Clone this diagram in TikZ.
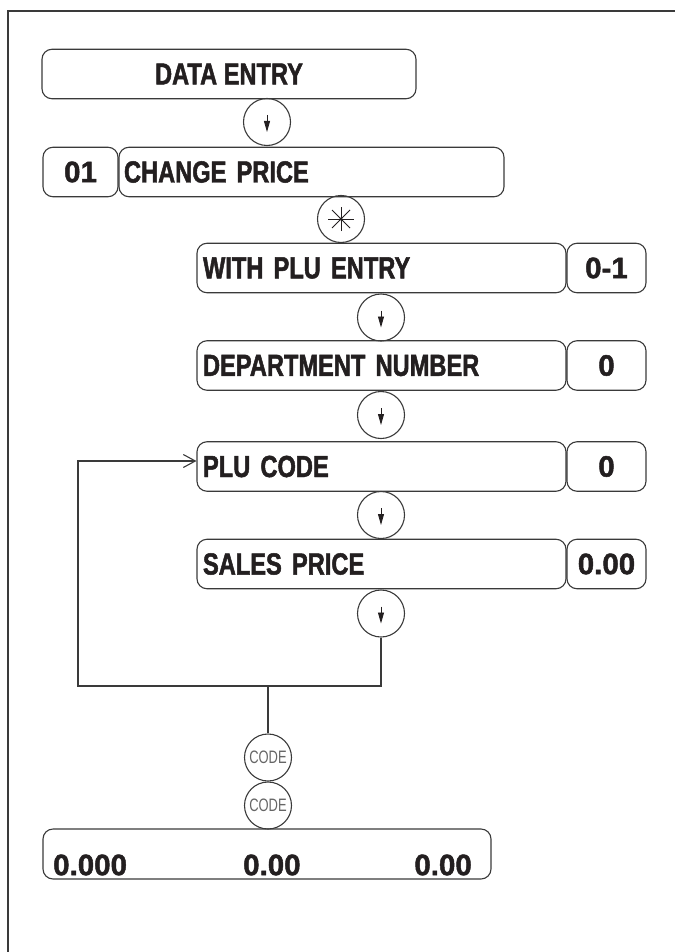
\documentclass[tikz,border=0pt]{standalone}
\usepackage{fontspec}
\usetikzlibrary{arrows.meta}
\newfontfamily\boxfont{Liberation Sans}[FakeStretch=0.775, FakeBold=1.6]
\newfontfamily\numfont{Liberation Sans}[FakeBold=1.6]
\newfontfamily\codefont{Liberation Sans}[FakeStretch=0.72]
\definecolor{ink}{HTML}{231F20}
\definecolor{edge}{HTML}{3A3A3A}
\tikzset{
  box/.style={draw=edge, line width=1.1pt, rounded corners=10pt, inner ysep=0pt,
    minimum height=49.5pt, text=ink, font=\boxfont\bfseries\fontsize{30.5}{31}\selectfont},
  lbox/.style={box, inner xsep=6pt, text width=357pt, align=left},
  valbox/.style={box, inner xsep=0pt, minimum width=79pt, font=\numfont\bfseries\fontsize{29.5}{30}\selectfont},
  keycirc/.style={draw=edge, line width=1.1pt, circle, minimum size=47pt, inner sep=0pt},
  codecirc/.style={keycirc, text=black!60, font=\codefont\fontsize{18}{18}\selectfont},
  numtext/.style={inner sep=0pt, text=ink, font=\numfont\bfseries\fontsize{29.5}{30}\selectfont},
  downarrow/.style={draw=ink, line width=0.9pt, -{Triangle[length=11pt,width=6pt]}},
  conn/.style={draw=edge, line width=1.1pt},
  starline/.style={draw=ink, line width=0.9pt}
}
\begin{document}
\begin{tikzpicture}[x=1pt,y=-1pt]
\useasboundingbox (0,0) rectangle (675,952);
% frame
\draw[edge, line width=1.3pt] (8,952) -- (8,11) -- (675,11);

% top boxes
\node[box, minimum width=374pt] (data) at (229,74) {DATA ENTRY};
\node[keycirc] (c1) at (267,122) {};
\node[valbox, minimum width=75pt] (num01) at (80.5,172) {01};
\node[box, minimum width=385pt, inner xsep=5pt, text width=375pt, align=left] (chg) at (311.5,172) {CHANGE PRICE};
\node[keycirc] (star) at (341,219) {};

% rows
\node[lbox] (with) at (381.5,268) {WITH PLU ENTRY};
\node[valbox] (v1) at (606.5,268) {0-1};
\node[keycirc] (c2) at (381,317.5) {};
\node[lbox] (dept) at (381.5,365.5) {DEPARTMENT NUMBER};
\node[valbox] (v2) at (606.5,365.5) {0};
\node[keycirc] (c3) at (381,415) {};
\node[lbox] (plu) at (381.5,466.5) {PLU CODE};
\node[valbox] (v3) at (606.5,466.5) {0};
\node[keycirc] (c4) at (381,515) {};
\node[lbox] (sales) at (381.5,564) {SALES PRICE};
\node[valbox] (v4) at (606.5,564) {0.00};
\node[keycirc] (c5) at (381,613.5) {};

% arrows inside key circles
\foreach \c in {c1,c2,c3,c4,c5}{
  \draw[downarrow] ([yshift=7pt]\c.center) -- ([yshift=-10pt]\c.center);
}
% star key
\draw[starline] ([xshift=-13pt]star.center) -- ([xshift=13pt]star.center);
\draw[starline] ([yshift=-12pt]star.center) -- ([yshift=12pt]star.center);
\draw[starline] ([xshift=-9pt,yshift=-9pt]star.center) -- ([xshift=9pt,yshift=9pt]star.center);
\draw[starline] ([xshift=-9pt,yshift=9pt]star.center) -- ([xshift=9pt,yshift=-9pt]star.center);
\fill[ink] (star.center) circle (1.6pt);

% CODE keys and bottom display
\node[codecirc] (code1) at (268,757.5) {CODE};
\node[codecirc] (code2) at (268,805.5) {CODE};
\node[box, minimum width=448pt, minimum height=50pt] (disp) at (267,854) {};
\node[numtext, anchor=west] (d1) at (53,865) {0.000};
\node[numtext, anchor=west] (d2) at (243,865) {0.00};
\node[numtext, anchor=east] (d3) at (472,865) {0.00};

% loop connector
\coordinate (turnR) at (381,686);
\coordinate (turnL) at (78,686);
\coordinate (up) at (78,461);
\coordinate (junc) at (268,686);
\draw[conn, -{Straight Barb[length=12pt,width=13pt]}] (c5.south) -- (turnR) -- (turnL) -- (up) -- (plu.west |- up);
\draw[conn] (junc) -- (code1.north);
\end{tikzpicture}
\end{document}
